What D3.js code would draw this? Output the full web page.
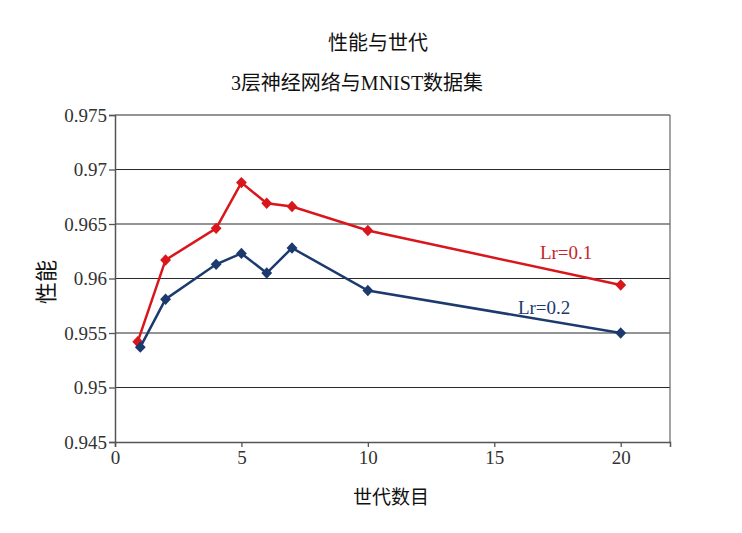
<!DOCTYPE html>
<html><head><meta charset="utf-8">
<script src="https://cdn.jsdelivr.net/npm/d3@7/dist/d3.min.js"></script>
<style>
body{margin:0;background:#fff;}
svg{display:block;}
.tick text, .serif{font-family:"Liberation Serif","DejaVu Serif",serif !important;font-size:19px !important;}
.cjk{font-family:"Noto Sans CJK SC","Noto Sans CJK JP",sans-serif;}
.mix{font-family:"Liberation Serif","Noto Sans CJK SC",serif;}
</style></head>
<body><svg id="c" width="742" height="533"></svg>
<script>
const titleMain = "性能与世代";
const titleSub = "3层神经网络与MNIST数据集";
const xLabel = "世代数目";
const yLabel = "性能";
const xTicks = [0, 5, 10, 15, 20];
const yTicks = [0.945, 0.95, 0.955, 0.96, 0.965, 0.97, 0.975];
const yTickLabels = ["0.945", "0.95", "0.955", "0.96", "0.965", "0.97", "0.975"];
const redX = [0.9, 2, 4, 5, 6, 7, 10, 20];
const redY = [0.9542, 0.9617, 0.9646, 0.9688, 0.9669, 0.9666, 0.9644, 0.9594];
const blueX = [1, 2, 4, 5, 6, 7, 10, 20];
const blueY = [0.9537, 0.9581, 0.9613, 0.9623, 0.9605, 0.9628, 0.9589, 0.9550];
const seriesNames = ["Lr=0.1", "Lr=0.2"];

const svg = d3.select("#c");
const L = 115, R = 670, T = 115, B = 442;
const x = d3.scaleLinear().domain([0, 21.95]).range([L, R]);
const y = d3.scaleLinear().domain([0.945, 0.975]).range([B, T]);

// grid
svg.append("g").selectAll("line").data(yTicks.slice(1)).join("line")
  .attr("x1", L).attr("x2", R).attr("y1", d => y(d)).attr("y2", d => y(d))
  .attr("stroke", "#2a2a2a").attr("stroke-width", 1.2);
// right border
svg.append("line").attr("x1", R).attr("x2", R).attr("y1", T).attr("y2", B)
  .attr("stroke", "#666").attr("stroke-width", 1.2);

// axes
const yAxis = d3.axisLeft(y).tickValues(yTicks).tickFormat((d, i) => yTickLabels[i]).tickSize(6).tickPadding(2);
const gy = svg.append("g").attr("transform", `translate(${L},0)`).call(yAxis);
const xAxis = d3.axisBottom(x).tickValues(xTicks).tickFormat(d3.format("d")).tickSize(5).tickPadding(4);
const gx = svg.append("g").attr("transform", `translate(0,${B})`).call(xAxis);
[gx, gy].forEach(g => {
  g.attr("font-family", null).attr("font-size", null);
  g.select(".domain").attr("stroke", "#555").attr("stroke-width", 1.5);
  g.selectAll(".tick line").attr("stroke", "#555").attr("stroke-width", 1.3);
  g.selectAll(".tick text").attr("fill", "#333");
});
gy.selectAll("text").attr("dy", "0.33em");

// lines
const line = d3.line().x(d => x(d[0])).y(d => y(d[1]));
const series = [
  {pts: redX.map((v, i) => [v, redY[i]]), color: "#d8161c"},
  {pts: blueX.map((v, i) => [v, blueY[i]]), color: "#1c3a6e"}
];
series.forEach(s => {
  svg.append("path").datum(s.pts).attr("d", line)
    .attr("fill", "none").attr("stroke", s.color).attr("stroke-width", 2.5);
  svg.append("g").selectAll("path").data(s.pts).join("path")
    .attr("d", d3.symbol().type(d3.symbolDiamond2).size(75))
    .attr("transform", d => `translate(${x(d[0])},${y(d[1])}) scale(1,1.05)`)
    .attr("fill", s.color);
});

// series labels
svg.append("text").attr("class", "serif").attr("x", x(17.84)).attr("y", y(0.96179)).attr("text-anchor", "middle")
  .attr("fill", "#c8252a").text(seriesNames[0]);
svg.append("text").attr("class", "serif").attr("x", x(16.97)).attr("y", y(0.95674)).attr("text-anchor", "middle")
  .attr("fill", "#1c3a6e").text(seriesNames[1]);

// titles
svg.append("text").attr("class", "cjk").attr("x", 378).attr("y", 50).attr("text-anchor", "middle")
  .style("font-size", "20px").attr("fill", "#111").text(titleMain);
svg.append("text").attr("class", "mix").attr("x", 357).attr("y", 90).attr("text-anchor", "middle")
  .style("font-size", "20px").attr("fill", "#111").text(titleSub);
svg.append("text").attr("class", "cjk").attr("x", 391).attr("y", 504).attr("text-anchor", "middle")
  .style("font-size", "19px").attr("fill", "#111").text(xLabel);
svg.append("text").attr("class", "cjk").attr("transform", "translate(54,282) rotate(-90)").attr("text-anchor", "middle")
  .style("font-size", "22px").attr("fill", "#111").text(yLabel);
</script></body></html>
